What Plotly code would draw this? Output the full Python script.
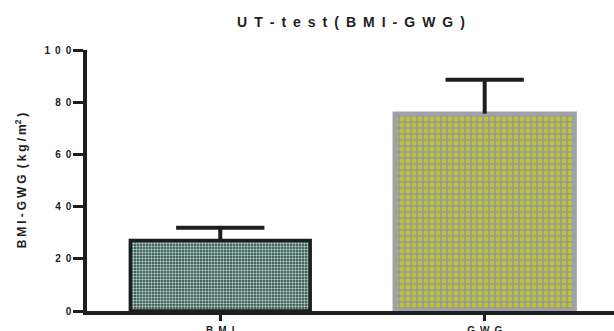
import plotly.graph_objects as go

categories = ["BMI", "GWG"]
means = [27.0, 75.6]
errors_up = [4.9, 13.0]
tick_values = [0, 20, 40, 60, 80, 100]

EN = "\u2002"   # en space
FPE = "\u2005"  # four-per-em space

def spaced(s, sp):
    return sp.join(list(s))

tick_text = ["<b>" + spaced(str(v), EN) + "</b>" for v in tick_values]
cat_text = ["<b>" + spaced(c, EN) + "</b>" for c in categories]
positions = list(range(len(categories)))
bar_colors = ["#2e3b3a", "#9a9a9a"]
pattern_fg = ["#a9d2c8", "#bcc530"]
outline_colors = ["#1e1e1e", "#a0a0a8"]
outline_widths = [3.5, 4.5]
pattern_sizes = [3, 6]
cap_half = [0.167, 0.148]

fig = go.Figure()
for i, cat in enumerate(categories):
    fig.add_trace(go.Bar(
        x=[positions[i]], y=[means[i]], width=0.68, name=cat,
        marker=dict(color=bar_colors[i],
                    line=dict(color=outline_colors[i], width=outline_widths[i]),
                    pattern=dict(shape=".", bgcolor=bar_colors[i], fgcolor=pattern_fg[i],
                                 size=pattern_sizes[i], solidity=0.5, fillmode="replace")),
        error_y=dict(type="data", array=[errors_up[i]], arrayminus=[0], symmetric=False,
                     color="#1e1e1e", thickness=4, width=0),
        showlegend=False,
    ))

# caps of the upper error bars
cap_x, cap_y = [], []
for p, m, e, h in zip(positions, means, errors_up, cap_half):
    cap_x += [p - h, p + h, None]
    cap_y += [m + e, m + e, None]
fig.add_trace(go.Scatter(
    x=cap_x, y=cap_y, mode="lines", line=dict(color="#1e1e1e", width=4),
    showlegend=False, hoverinfo="skip",
))

fig.update_layout(
    width=614, height=331,
    margin=dict(l=87, r=0, t=50, b=20),
    paper_bgcolor="white", plot_bgcolor="white",
    barmode="overlay",
    font=dict(family="Liberation Sans, Arial, sans-serif", color="#1e1e1e"),
    title=dict(text="<b>" + spaced("UT-test", EN) + EN + spaced("(BMI-GWG)", EN) + "</b>",
               x=(88 + 614) / 2 / 614, xanchor="center", y=1 - 22 / 331, yanchor="middle",
               font=dict(size=14, color="#1e1e1e")),
)
fig.update_xaxes(
    range=[-0.504, 1.489], tickmode="array", tickvals=positions, ticktext=cat_text,
    showline=True, linecolor="#1e1e1e", linewidth=3.5,
    ticks="outside", ticklen=6, tickwidth=3, tickcolor="#1e1e1e",
    tickfont=dict(size=10), ticklabelstandoff=1, showgrid=False, zeroline=False,
    automargin=False,
)
fig.update_yaxes(
    range=[0, 100], tickmode="array", tickvals=tick_values, ticktext=tick_text,
    showline=True, linecolor="#1e1e1e", linewidth=3.5,
    ticks="outside", ticklen=10, tickwidth=3, tickcolor="#1e1e1e",
    tickfont=dict(size=10), showgrid=False, zeroline=False, automargin=False,
    title=dict(text="<b>" + spaced("BMI-GWG", FPE) + EN + spaced("(kg/m", FPE) + "<sup>2</sup>" + FPE + ")</b>",
               font=dict(size=12), standoff=16),
)

fig.write_html("out.html", config={"displayModeBar": False},
               post_script="document.body.style.margin='0';")
